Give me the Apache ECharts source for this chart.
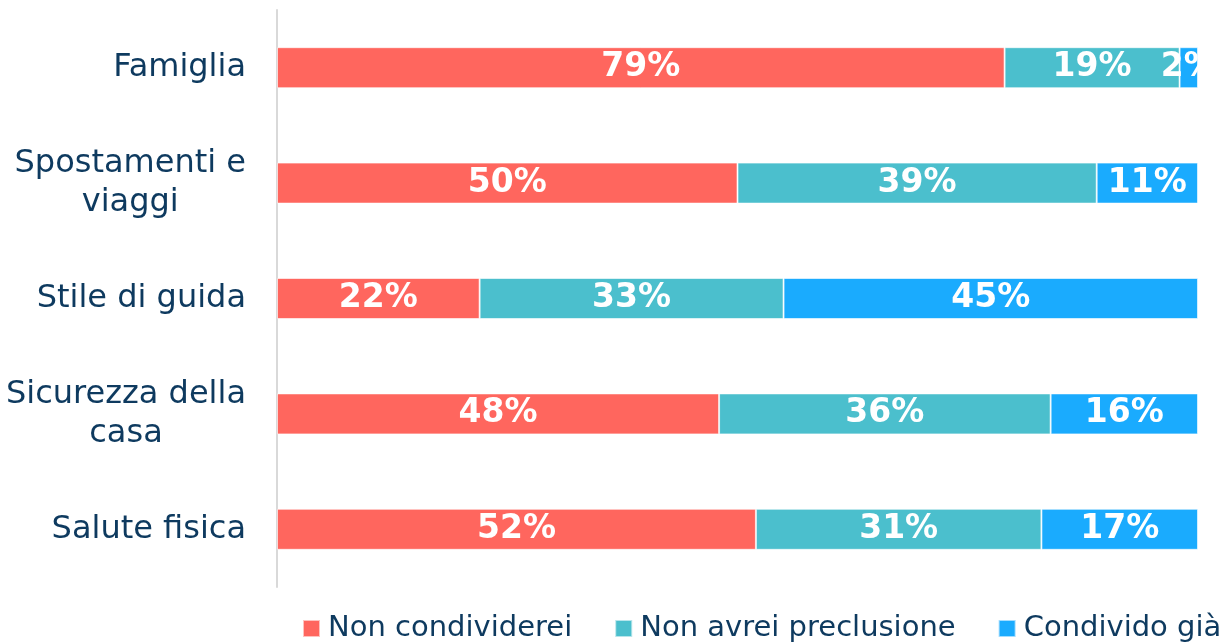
<!DOCTYPE html>
<html>
<head>
<meta charset="utf-8">
<script src="https://cdn.jsdelivr.net/npm/echarts@6/dist/echarts.min.js"></script>
<style>
  html, body { margin: 0; padding: 0; background: #fff; }
  #chart { width: 1229px; height: 643px; }
</style>
</head>
<body>
<div id="chart"></div>
<script>
// categories, top to bottom
const categories = [
  'Famiglia',
  'Spostamenti e\nviaggi',
  'Stile di guida',
  'Sicurezza della\ncasa',
  'Salute fisica'
]
const seriesNames = ['Non condividerei', 'Non avrei preclusione', 'Condivido già']
const nonCondividerei = [79, 50, 22, 48, 52]
const nonAvreiPreclusione = [19, 39, 33, 36, 31]
const condividoGia = [2, 11, 45, 16, 17]

const colors = ['#FF665E', '#4BBFCD', '#1AABFE']
const textColor = '#0E3A5F'

const chart = echarts.init(document.getElementById('chart'))

const makeSeries = (name, data, color) => ({
  name,
  type: 'bar',
  stack: 'total',
  barWidth: 41,
  data,
  itemStyle: { color, borderColor: 'rgba(255,255,255,0.6)', borderWidth: 1 },
  label: {
    show: true,
    position: 'inside',
    formatter: '{c}%',
    color: '#fff',
    fontFamily: 'DejaVu Sans',
    fontWeight: 'bold',
    fontSize: 33
  },
  emphasis: { disabled: true }
})

chart.setOption({
  animation: false,
  backgroundColor: '#fff',
  grid: { left: 277, right: 31, top: 10, bottom: 56 },
  legend: {
    left: 302,
    top: 614,
    padding: 0,
    itemWidth: 17,
    itemHeight: 17,
    itemGap: 42,
    icon: 'rect',
    textStyle: { color: textColor, fontFamily: 'DejaVu Sans', fontSize: 29, padding: [0, 0, 0, 3] },
    data: seriesNames
  },
  xAxis: { type: 'value', min: 0, max: 100, show: false },
  yAxis: {
    type: 'category',
    inverse: true,
    data: categories,
    axisLine: { show: true, lineStyle: { color: '#D9D9D9', width: 2 } },
    axisTick: { show: false },
    axisLabel: {
      margin: 31,
      align: 'right',
      // each line centred inside the right-aligned block
      formatter: (v) => v.split('\n').map((s) => '{c|' + s + '}').join('\n'),
      rich: {
        c: {
          color: textColor,
          fontFamily: 'DejaVu Sans',
          fontSize: 32,
          lineHeight: 39,
          align: 'center'
        }
      }
    }
  },
  series: [
    makeSeries(seriesNames[0], nonCondividerei, colors[0]),
    makeSeries(seriesNames[1], nonAvreiPreclusione, colors[1]),
    makeSeries(seriesNames[2], condividoGia, colors[2])
  ]
})
</script>
</body>
</html>
